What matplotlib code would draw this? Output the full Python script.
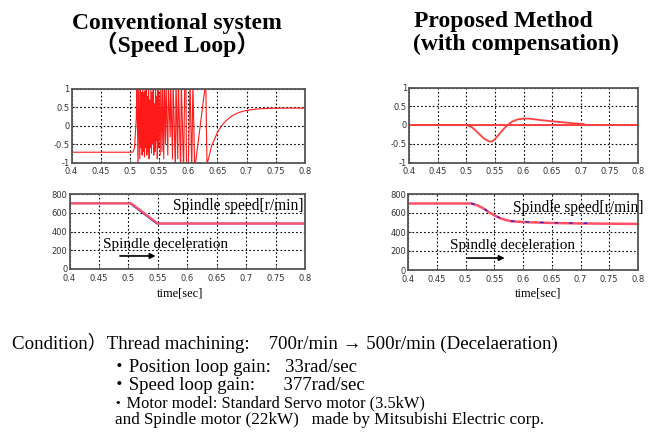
import matplotlib
matplotlib.use("Agg")
import matplotlib.pyplot as plt

W, H = 670, 447

# ---------------- data ----------------
xticks = [0.4, 0.45, 0.5, 0.55, 0.6, 0.65, 0.7, 0.75, 0.8]
xtick_labels = ["0.4", "0.45", "0.5", "0.55", "0.6", "0.65", "0.7", "0.75", "0.8"]
err_yticks = [-1, -0.5, 0, 0.5, 1]
err_ytick_labels = ["-1", "-0.5", "0", "0.5", "1"]
spd_yticks = [0, 200, 400, 600, 800]
spd_ytick_labels = ["0", "200", "400", "600", "800"]

# conventional system: error signal (clipped by the axes at +-1)
conv_t = [0.400, 0.500, 0.505, 0.508, 0.511, 0.512, 0.514, 0.515, 0.517, 0.518,
          0.519, 0.520, 0.521, 0.522, 0.523, 0.524, 0.525, 0.526, 0.527, 0.528,
          0.529, 0.530, 0.531, 0.532, 0.533, 0.534, 0.535, 0.536, 0.537, 0.538,
          0.539, 0.540, 0.541, 0.542, 0.543, 0.544, 0.545, 0.546, 0.547, 0.548,
          0.549, 0.550, 0.552, 0.553, 0.555, 0.556, 0.558, 0.559, 0.561, 0.562,
          0.565, 0.566, 0.569, 0.570, 0.573, 0.574, 0.578, 0.579, 0.582, 0.583,
          0.587, 0.588, 0.592, 0.594, 0.596, 0.597, 0.600, 0.603, 0.606, 0.608,
          0.611, 0.630, 0.632, 0.633, 0.640, 0.650, 0.657, 0.665, 0.675, 0.685,
          0.695, 0.705, 0.720, 0.740, 0.760, 0.800]
conv_e = [-0.72, -0.72, -0.72, -0.60, 0.20, 1.20, -1.20, 1.20, -0.90, 1.10,
          -0.60, 0.90, -0.80, 1.10, -0.70, 0.90, -0.85, 0.95, -0.60, 1.20,
          -0.80, 0.80, -0.70, 1.10, -0.90, 0.70, -0.60, 1.00, -0.75, 0.90,
          -0.50, 1.10, -0.80, 0.60, -0.70, 1.20, -0.40, 0.80, -0.90, 1.00,
          -0.60, 0.90, -0.80, 1.20, -0.70, 1.00, -0.90, 1.20, -0.50, 1.10,
          -0.80, 1.20, -0.30, 1.10, -0.90, 1.20, -1.20, 1.20, -0.90, 1.20,
          -1.20, 1.20, -1.20, 1.20, 1.20, -1.20, -1.20, 1.20, -1.20, 1.20,
          -1.20, 1.20, -1.00, -1.00, -0.55, -0.18, 0.00, 0.14, 0.27, 0.35,
          0.40, 0.43, 0.46, 0.475, 0.48, 0.48]

# proposed method: error signal
prop_t = [0.400, 0.500, 0.510, 0.520, 0.530, 0.540, 0.545, 0.550, 0.560, 0.570,
          0.580, 0.590, 0.600, 0.610, 0.620, 0.630, 0.650, 0.670, 0.690, 0.705]
prop_e = [0.00, 0.00, -0.06, -0.20, -0.35, -0.44, -0.44, -0.38, -0.20, -0.03,
          0.09, 0.15, 0.17, 0.17, 0.15, 0.13, 0.10, 0.07, 0.04, 0.03]
zero_t = [0.4, 0.8]
zero_e = [0.0, 0.0]

# spindle speed [r/min]
conv_spd_t = [0.400, 0.505, 0.550, 0.800]
conv_spd = [700, 700, 485, 485]
conv_ref_t = [0.400, 0.503, 0.548, 0.800]
conv_ref = [700, 700, 485, 485]

prop_spd_t = [0.400, 0.510, 0.520, 0.530, 0.540, 0.550, 0.560, 0.570, 0.580,
              0.600, 0.650, 0.700, 0.800]
prop_spd = [700, 700, 682, 652, 612, 576, 546, 526, 513, 505, 495, 490, 485]
prop_ref_t = [0.510, 0.520, 0.530, 0.540, 0.550, 0.560, 0.570, 0.580,
              0.600, 0.650, 0.715]
prop_ref = [702, 684, 654, 614, 578, 548, 528, 515, 507, 497, 492]

# ---------------- figure ----------------
fig = plt.figure(figsize=(W / 100, H / 100), dpi=100)
fig.patch.set_facecolor("white")


def box(l, t, r, b):
    return [l / W, 1 - b / H, (r - l) / W, (b - t) / H]


def style(ax, yticks, ylabels, ylim):
    ax.set_xlim(0.4, 0.8)
    ax.set_ylim(*ylim)
    ax.set_xticks(xticks)
    ax.set_xticklabels(xtick_labels)
    ax.set_yticks(yticks)
    ax.set_yticklabels(ylabels)
    ax.tick_params(direction="in", length=2, width=0.6, labelsize=6,
                   colors="#333333", pad=1.5)
    ax.tick_params(axis="x", pad=3.5)
    ax.grid(True, color="black", linestyle=(0, (1.5, 2)), linewidth=0.8)
    for s in ax.spines.values():
        s.set_color("#555555")
        s.set_linewidth(1.3)
    ax.set_axisbelow(True)


ax1 = fig.add_axes(box(71.5, 89, 305, 162.5))
ax1.plot(conv_t, conv_e, color="#ff1a1a", lw=0.8)
style(ax1, err_yticks, err_ytick_labels, (-1, 1))

ax2 = fig.add_axes(box(409, 87.5, 638, 162.5))
ax2.plot(zero_t, zero_e, color="#ff4040", lw=1.4)
ax2.plot(prop_t, prop_e, color="#ff4040", lw=1.3)
style(ax2, err_yticks, err_ytick_labels, (-1, 1))

ax3 = fig.add_axes(box(69.5, 194, 305, 269))
ax3.plot(conv_ref_t, conv_ref, color="#2020cc", lw=1.2)
ax3.plot(conv_spd_t, conv_spd, color="#ff5068", lw=1.6)
style(ax3, spd_yticks, spd_ytick_labels, (0, 800))

ax4 = fig.add_axes(box(408, 194, 638, 270))
ax4.plot(prop_spd_t, prop_spd, color="#ff5068", lw=1.8)
ax4.plot(prop_ref_t, prop_ref, color="#2020cc", lw=1.0,
         linestyle=(0, (2.5, 8)))
style(ax4, spd_yticks, spd_ytick_labels, (0, 800))

serif = ["Liberation Serif", "Noto Sans CJK JP", "DejaVu Serif"]

ax3.text(0.576, 675, "Spindle speed[r/min]", fontsize=11.2, family=serif,
         va="center", ha="left")
ax3.text(0.457, 263, "Spindle deceleration", fontsize=11, family=serif,
         va="center", ha="left")
ax3.annotate("", xy=(0.551, 139), xytext=(0.481, 139),
             arrowprops=dict(arrowstyle="-|>", color="black", lw=1.2,
                             mutation_scale=8))

ax4.text(0.583, 653, "Spindle speed[r/min]", fontsize=11.2, family=serif,
         va="center", ha="left")
ax4.text(0.473, 256, "Spindle deceleration", fontsize=11, family=serif,
         va="center", ha="left")
ax4.annotate("", xy=(0.573, 126), xytext=(0.499, 126),
             arrowprops=dict(arrowstyle="-|>", color="black", lw=1.2,
                             mutation_scale=8))


def ftext(x, y, s, **kw):
    fig.text(x / W, 1 - y / H, s, family=serif, **kw)


ftext(180, 294, "time[sec]", fontsize=9, ha="center", va="center")
ftext(538, 294, "time[sec]", fontsize=9, ha="center", va="center")

ftext(177, 23, "Conventional system", fontsize=17, weight="bold",
      ha="center", va="center")
ftext(177, 44, "（Speed Loop）", fontsize=17, weight="bold",
      ha="center", va="center")
ftext(414, 21, "Proposed Method", fontsize=17, weight="bold",
      ha="left", va="center")
ftext(413, 44, "(with compensation)", fontsize=17, weight="bold",
      ha="left", va="center")

ftext(12, 342.5, "Condition）Thread machining:    700r/min → 500r/min (Decelaeration)",
      fontsize=13.6, ha="left", va="center")
ftext(110, 367, "・Position loop gain:   33rad/sec", fontsize=13.5,
      ha="left", va="center")
ftext(110, 385, "・Speed loop gain:      377rad/sec", fontsize=13.5,
      ha="left", va="center")
ftext(110, 403, "・Motor model: Standard Servo motor (3.5kW)", fontsize=11.8,
      ha="left", va="center")
ftext(115, 420, "and Spindle motor (22kW)   made by Mitsubishi Electric corp.",
      fontsize=12.3, ha="left", va="center")

fig.savefig("out.png", dpi=100)
